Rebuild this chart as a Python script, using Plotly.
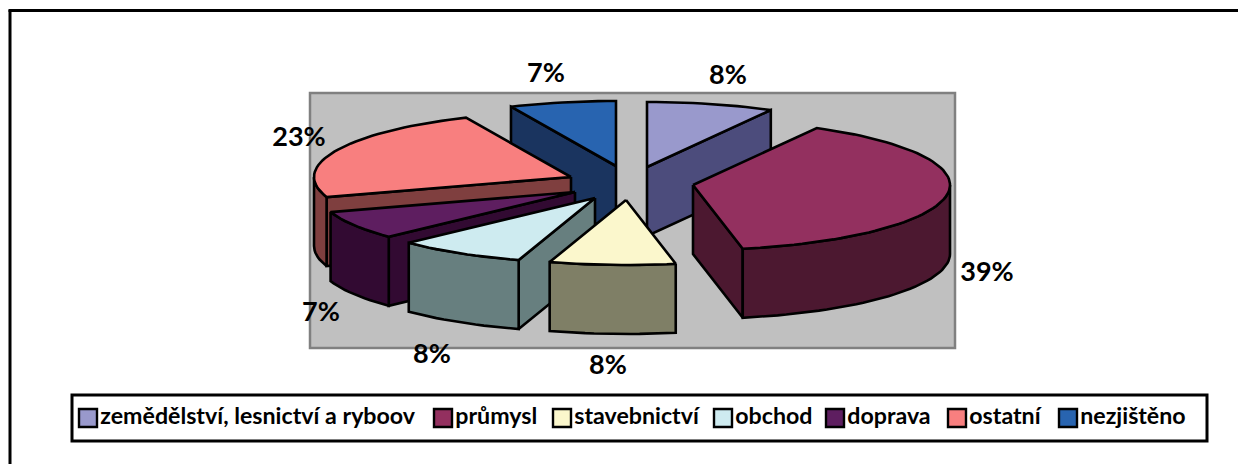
import math
import plotly.graph_objects as go

categories = ["zemědělství, lesnictví a ryboov", "průmysl", "stavebnictví", "obchod", "doprava", "ostatní", "nezjištěno"]
shares = [8.0, 38.9, 7.9, 8.1, 7.1, 23.3, 6.7]
top_colors = ["#9999CC", "#93305F", "#FBF7CC", "#CEEBF0", "#5E1E60", "#F87F7F", "#2864B0"]
side_colors = ["#4C4C7C", "#4C1830", "#7F7F66", "#677F7F", "#320A32", "#7F3F3F", "#1A345F"]

# layout of the exploded pie, in page pixels
apex_x = [647, 693, 626, 595, 575, 571, 616]
apex_y = [167, 185, 200, 198, 192, 177, 166]
label_x = [728, 987, 608, 432, 321, 299, 546]
label_y = [77, 274, 367, 356, 314, 139, 75]
key_x = [88, 443, 562, 723, 835, 957, 1068]
KEY_Y = 418
RX, RY, DEPTH = 257, 65, 69
draw_order = [6, 0, 1, 5, 4, 3, 2]

def rim(cx, cy, t):
    return cx + RX * math.sin(math.radians(t)), cy - RY * math.cos(math.radians(t))

def arc(cx, cy, a, b, dy=0):
    n = max(2, int(abs(b - a) / 2) + 1)
    pts = [rim(cx, cy, a + (b - a) * i / (n - 1)) for i in range(n)]
    return [(x, y + dy) for x, y in pts]

total = sum(shares)
starts, ends, acc = [], [], 0
for s in shares:
    starts.append(acc * 360 / total)
    acc += s
    ends.append(acc * 360 / total)

fig = go.Figure()

def poly(pts, fill):
    xs = [p[0] for p in pts] + [pts[0][0]]
    ys = [p[1] for p in pts] + [pts[0][1]]
    fig.add_trace(go.Scatter(x=xs, y=ys, mode="lines", fill="toself", fillcolor=fill,
                             line=dict(color="black", width=2.6), showlegend=False, hoverinfo="skip"))

for i in draw_order:
    cx, cy, a, b = apex_x[i], apex_y[i], starts[i], ends[i]
    top, side = top_colors[i], side_colors[i]
    pa, pb = rim(cx, cy, a), rim(cx, cy, b)
    if math.sin(math.radians(a)) < 0:
        poly([(cx, cy), pa, (pa[0], pa[1] + DEPTH), (cx, cy + DEPTH)], side)
    if math.sin(math.radians(b)) > 0:
        poly([(cx, cy), pb, (pb[0], pb[1] + DEPTH), (cx, cy + DEPTH)], side)
    w0, w1 = max(a, 90), min(b, 270)
    if w1 > w0:
        poly(arc(cx, cy, w0, w1) + arc(cx, cy, w1, w0, DEPTH), side)
    poly([(cx, cy)] + arc(cx, cy, a, b), top)

fig.add_trace(go.Scatter(x=label_x, y=label_y, mode="text",
                         text=[f"{round(s)}%" for s in shares],
                         textfont=dict(family="Lato", size=27, color="black", weight="bold"),
                         showlegend=False, hoverinfo="skip"))

for name, color, kx in zip(categories, top_colors, key_x):
    fig.add_trace(go.Scatter(x=[kx], y=[KEY_Y], mode="markers+text", name=name, text=[name],
                             textposition="middle right",
                             textfont=dict(family="Lato", size=23.2, color="black", weight="bold"),
                             marker=dict(symbol="square", size=18, color=color,
                                         line=dict(color="black", width=2.4)),
                             showlegend=False, hoverinfo="name"))

fig.update_layout(
    width=1246, height=464, autosize=False,
    margin=dict(l=0, r=0, t=0, b=0),
    paper_bgcolor="white", plot_bgcolor="white",
    xaxis=dict(range=[0, 1246], visible=False, fixedrange=True),
    yaxis=dict(range=[464, 0], visible=False, fixedrange=True),
    shapes=[
        dict(type="rect", layer="below", x0=310, x1=955, y0=93, y1=348,
             fillcolor="#C0C0C0", line=dict(color="#808080", width=2.5)),
        dict(type="rect", layer="below", x0=72, x1=1207, y0=395, y1=441,
             fillcolor="white", line=dict(color="black", width=3)),
        dict(type="line", x0=8.5, x1=1238, y0=10.5, y1=10.5, line=dict(color="black", width=3)),
        dict(type="line", x0=10, x1=10, y0=10, y1=464, line=dict(color="black", width=3)),
    ],
)
fig.write_html("out.html", config=dict(displayModeBar=False),
               post_script="document.body.style.margin='0';")
